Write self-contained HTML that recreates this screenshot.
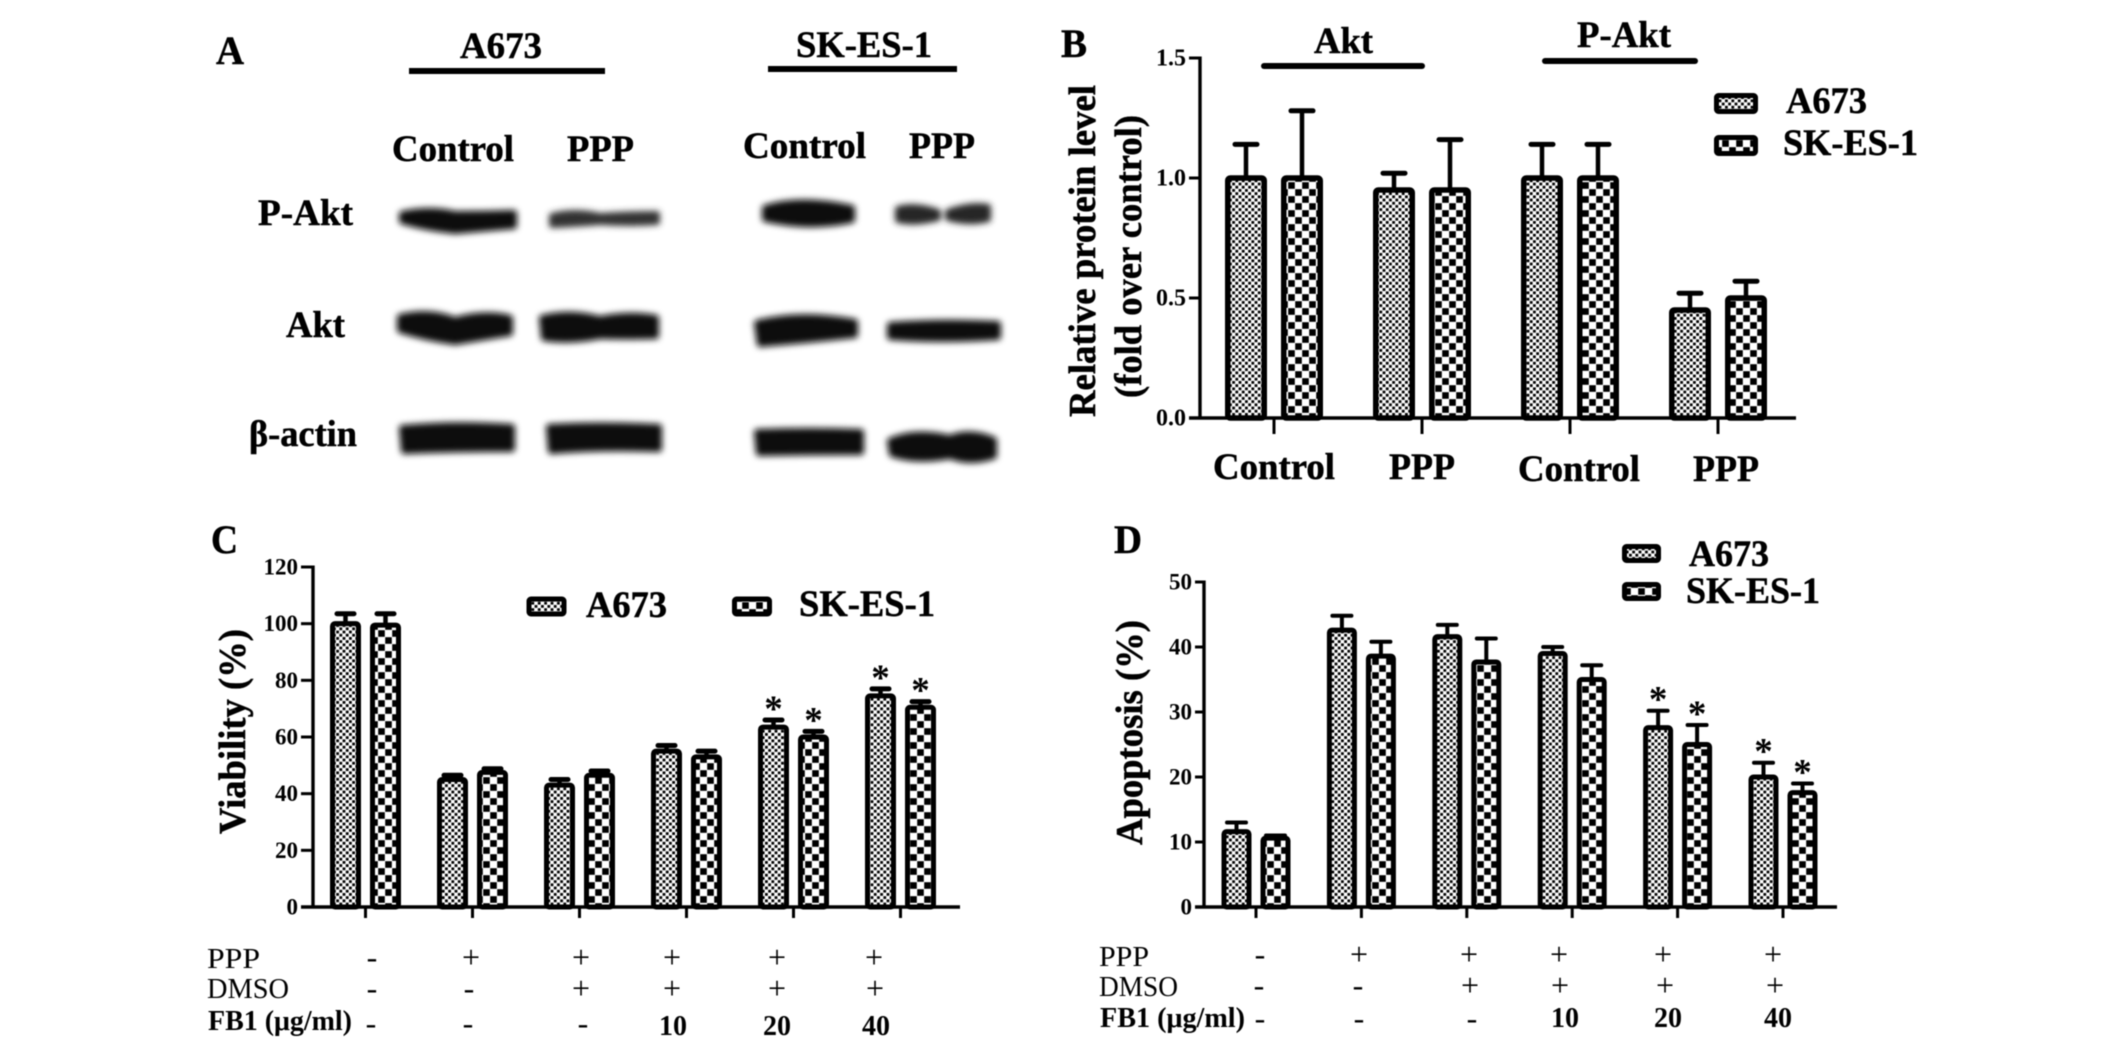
<!DOCTYPE html>
<html lang="en">
<head>
<meta charset="utf-8">
<title>Western blot and bar charts panel figure</title>
<style>
html,body{margin:0;padding:0;background:#fff;width:2126px;height:1047px;overflow:hidden}
#figure{display:block;filter:blur(0.5px)}
text{font-family:"Liberation Serif","DejaVu Serif",serif;fill:#000}
.b{font-weight:bold;stroke:#000;stroke-width:.5px}
.h{font-weight:bold;font-size:37px;stroke:#000;stroke-width:.5px}
.t{font-size:28px;font-weight:bold}
.s{font-size:32px;text-anchor:middle}
.n{font-size:28px;font-weight:bold;text-anchor:middle}
</style>
</head>
<body>
<svg id="figure" xmlns="http://www.w3.org/2000/svg" width="2126" height="1047" viewBox="0 0 2126 1047">
<defs>
<pattern id="fine" patternUnits="userSpaceOnUse" width="6.4" height="6.4">
<rect width="6.4" height="6.4" fill="#fff"/>
<rect x="0.2" y="0.2" width="2.8" height="2.8" fill="#000"/>
<rect x="3.4" y="3.4" width="2.8" height="2.8" fill="#000"/>
</pattern>
<pattern id="coarse" patternUnits="userSpaceOnUse" width="14" height="14">
<rect width="14" height="14" fill="#fff"/>
<rect x="0.2" y="0.2" width="6.6" height="6.6" fill="#000"/>
<rect x="7.2" y="7.2" width="6.6" height="6.6" fill="#000"/>
</pattern>
<filter id="bandBlur" x="-20%" y="-60%" width="140%" height="220%"><feGaussianBlur stdDeviation="3.2"/></filter>
</defs>

<rect width="2126" height="1047" fill="#fff"/>

<!-- PANEL A -->
<g>
<text class="b" x="216" y="64" font-size="40" textLength="28" lengthAdjust="spacingAndGlyphs">A</text>
<text class="h" x="460" y="58" textLength="82" lengthAdjust="spacingAndGlyphs">A673</text>
<rect x="409" y="68" width="196" height="6" fill="#000"/>
<text class="h" x="796" y="57" textLength="136" lengthAdjust="spacingAndGlyphs">SK-ES-1</text>
<rect x="768" y="66" width="189" height="6" fill="#000"/>
<text class="h" x="392" y="161" textLength="122" lengthAdjust="spacingAndGlyphs">Control</text>
<text class="h" x="567" y="161" textLength="67" lengthAdjust="spacingAndGlyphs">PPP</text>
<text class="h" x="743" y="158" textLength="123" lengthAdjust="spacingAndGlyphs">Control</text>
<text class="h" x="909" y="158" textLength="66" lengthAdjust="spacingAndGlyphs">PPP</text>
<text class="h" x="258" y="225" textLength="95" lengthAdjust="spacingAndGlyphs">P-Akt</text>
<text class="h" x="286" y="337" textLength="59" lengthAdjust="spacingAndGlyphs">Akt</text>
<text class="h" x="249" y="446" textLength="108" lengthAdjust="spacingAndGlyphs">β-actin</text>
<g filter="url(#bandBlur)" fill="#0a0a0a" stroke="#0a0a0a" stroke-width="6" stroke-linejoin="round">
<path d="M402 214 Q430 208 455 214 Q485 214 514 213 L514 226 Q480 229 455 231 Q425 228 402 221 Z"/>
<path fill="#333" stroke="#333" d="M552 216 Q575 210 600 216 Q630 214 657 214 L657 222 Q630 224 600 222 Q575 224 552 225 Z"/>
<path d="M765 208 Q800 197 852 208 L852 220 Q810 229 765 219 Z"/>
<path fill="#262626" stroke="#262626" d="M898 209 Q915 204 938 212 L938 218 Q915 224 898 220 Z"/>
<path fill="#262626" stroke="#262626" d="M948 212 Q970 204 988 207 L988 219 Q970 224 948 218 Z"/>
<path d="M400 317 Q430 310 455 320 Q485 312 510 318 L510 333 Q480 338 455 342 Q425 338 400 330 Z"/>
<path d="M542 318 Q570 311 600 319 Q630 313 656 318 L656 336 Q625 337 600 336 Q570 342 544 338 Z"/>
<path d="M757 323 Q800 312 855 322 L855 335 Q810 340 760 344 Z"/>
<path d="M890 325 Q940 321 998 324 L998 337 Q940 341 890 337 Z"/>
<path d="M402 428 Q455 423 512 427 L512 449 Q455 449 404 451 Z"/>
<path d="M549 427 Q600 424 659 427 L659 449 Q600 447 551 451 Z"/>
<path d="M757 432 Q810 430 861 432 L861 452 Q810 452 759 453 Z"/>
<path d="M890 441 Q915 430 950 438 Q970 430 994 440 L994 456 Q970 464 950 456 Q915 462 892 454 Z"/>
</g>
</g>

<!-- PANEL B text -->
<g>
<text class="b" x="1061" y="57" font-size="40" textLength="26" lengthAdjust="spacingAndGlyphs">B</text>
<text class="h" x="1314" y="53" textLength="59" lengthAdjust="spacingAndGlyphs">Akt</text>
<rect x="1261" y="63" width="164" height="6" rx="3" fill="#000"/>
<text class="h" x="1577" y="47" textLength="94" lengthAdjust="spacingAndGlyphs">P-Akt</text>
<rect x="1542" y="58" width="156" height="6" rx="3" fill="#000"/>
<text class="b" font-size="37" transform="translate(1095,417) rotate(-90) scale(1,1.03)" textLength="332" lengthAdjust="spacingAndGlyphs">Relative protein level</text>
<text class="b" font-size="37" transform="translate(1141,398) rotate(-90) scale(1,1.03)" textLength="283" lengthAdjust="spacingAndGlyphs">(fold over control)</text>
<text class="h" x="1213" y="479" textLength="122" lengthAdjust="spacingAndGlyphs">Control</text>
<text class="h" x="1389" y="479" textLength="66" lengthAdjust="spacingAndGlyphs">PPP</text>
<text class="h" x="1518" y="481" textLength="122" lengthAdjust="spacingAndGlyphs">Control</text>
<text class="h" x="1693" y="481" textLength="66" lengthAdjust="spacingAndGlyphs">PPP</text>
<rect x="1716.5" y="95.5" width="39" height="16" rx="2" fill="url(#fine)" stroke="#000" stroke-width="5"/>
<text class="h" x="1786" y="113" textLength="81" lengthAdjust="spacingAndGlyphs">A673</text>
<rect x="1716.5" y="137.5" width="39" height="16" rx="2" fill="url(#coarse)" stroke="#000" stroke-width="5"/>
<text class="h" x="1783" y="155" textLength="135" lengthAdjust="spacingAndGlyphs">SK-ES-1</text>
</g>

<!-- PANEL C text -->
<g>
<text class="b" x="211" y="553" font-size="40" textLength="27" lengthAdjust="spacingAndGlyphs">C</text>
<text class="b" font-size="37" transform="translate(245,834) rotate(-90) scale(1,1.03)" textLength="205" lengthAdjust="spacingAndGlyphs">Viability (%)</text>
<rect x="529" y="599" width="35" height="15" rx="2" fill="url(#fine)" stroke="#000" stroke-width="5"/>
<text class="h" x="586" y="617" textLength="81" lengthAdjust="spacingAndGlyphs">A673</text>
<rect x="734.5" y="599" width="35" height="15" rx="2" fill="url(#coarse)" stroke="#000" stroke-width="5"/>
<text class="h" x="799" y="616" textLength="136" lengthAdjust="spacingAndGlyphs">SK-ES-1</text>
<g>
<text x="207" y="968" font-size="28" textLength="53" lengthAdjust="spacingAndGlyphs">PPP</text>
<text x="207" y="998" font-size="28" textLength="82" lengthAdjust="spacingAndGlyphs">DMSO</text>
<text class="t" x="208" y="1030" textLength="144" lengthAdjust="spacingAndGlyphs">FB1 (μg/ml)</text>
<text class="s" x="372" y="968">-</text>
<text class="s" x="471" y="968">+</text>
<text class="s" x="581" y="968">+</text>
<text class="s" x="672" y="968">+</text>
<text class="s" x="777" y="968">+</text>
<text class="s" x="874" y="968">+</text>
<text class="s" x="372" y="999">-</text>
<text class="s" x="469" y="999">-</text>
<text class="s" x="581" y="999">+</text>
<text class="s" x="672" y="999">+</text>
<text class="s" x="777" y="999">+</text>
<text class="s" x="875" y="999">+</text>
<text class="s" x="371" y="1034">-</text>
<text class="s" x="468" y="1034">-</text>
<text class="s" x="583" y="1034">-</text>
<text class="n" x="673" y="1035">10</text>
<text class="n" x="777" y="1035">20</text>
<text class="n" x="876" y="1035">40</text>
</g>
</g>

<!-- PANEL D text -->
<g>
<text class="b" x="1114" y="553" font-size="40" textLength="28" lengthAdjust="spacingAndGlyphs">D</text>
<text class="b" font-size="37" transform="translate(1142,845) rotate(-90) scale(1,1.03)" textLength="225" lengthAdjust="spacingAndGlyphs">Apoptosis (%)</text>
<rect x="1624.5" y="546.5" width="34" height="14" rx="2" fill="url(#fine)" stroke="#000" stroke-width="5"/>
<text class="h" x="1689" y="566" textLength="80" lengthAdjust="spacingAndGlyphs">A673</text>
<rect x="1624.5" y="584.5" width="34" height="14" rx="2" fill="url(#coarse)" stroke="#000" stroke-width="5"/>
<text class="h" x="1686" y="603" textLength="134" lengthAdjust="spacingAndGlyphs">SK-ES-1</text>
<g>
<text x="1099" y="966" font-size="28" textLength="50" lengthAdjust="spacingAndGlyphs">PPP</text>
<text x="1099" y="996" font-size="28" textLength="79" lengthAdjust="spacingAndGlyphs">DMSO</text>
<text class="t" x="1100" y="1027" textLength="145" lengthAdjust="spacingAndGlyphs">FB1 (μg/ml)</text>
<text class="s" x="1260" y="965">-</text>
<text class="s" x="1359" y="965">+</text>
<text class="s" x="1469" y="965">+</text>
<text class="s" x="1559" y="965">+</text>
<text class="s" x="1663" y="965">+</text>
<text class="s" x="1773" y="965">+</text>
<text class="s" x="1259" y="996">-</text>
<text class="s" x="1358" y="996">-</text>
<text class="s" x="1470" y="996">+</text>
<text class="s" x="1560" y="996">+</text>
<text class="s" x="1665" y="996">+</text>
<text class="s" x="1775" y="996">+</text>
<text class="s" x="1260" y="1029">-</text>
<text class="s" x="1359" y="1029">-</text>
<text class="s" x="1472" y="1029">-</text>
<text class="n" x="1565" y="1027">10</text>
<text class="n" x="1668" y="1027">20</text>
<text class="n" x="1778" y="1027">40</text>
</g>
</g>

<g id="chart-b"></g>
<g id="chart-c"></g>
<g id="chart-d"></g>
</svg>

<script>
// Panel B: relative protein level
const bCategories = ['Akt Control', 'Akt PPP', 'P-Akt Control', 'P-Akt PPP'];
const bA673 = [1.0, 0.95, 1.0, 0.45];
const bSkEs1 = [1.0, 0.95, 1.0, 0.5];
const bA673ErrorTop = [1.14, 1.02, 1.14, 0.52];
const bSkEs1ErrorTop = [1.28, 1.16, 1.14, 0.57];
const bA673Starred = [false, false, false, false];
const bSkEs1Starred = [false, false, false, false];
const bTickValues = [0, 0.5, 1.0, 1.5];
const bTickLabels = ['0.0', '0.5', '1.0', '1.5'];

// Panel C: viability
const cCategories = ['untreated', 'PPP', 'PPP + DMSO', 'FB1 10', 'FB1 20', 'FB1 40'];
const cA673 = [100, 45, 43, 55, 63.5, 74.5];
const cSkEs1 = [99.5, 47.5, 46.5, 53, 60, 70.5];
const cA673ErrorTop = [103.5, 46.5, 45, 57, 66, 77];
const cSkEs1ErrorTop = [103.5, 48.8, 48, 55, 62, 72.5];
const cA673Starred = [false, false, false, false, true, true];
const cSkEs1Starred = [false, false, false, false, true, true];
const cTickValues = [0, 20, 40, 60, 80, 100, 120];
const cTickLabels = ['0', '20', '40', '60', '80', '100', '120'];

// Panel D: apoptosis
const dCategories = ['untreated', 'PPP', 'PPP + DMSO', 'FB1 10', 'FB1 20', 'FB1 40'];
const dA673 = [11.6, 42.6, 41.6, 39, 27.6, 20];
const dSkEs1 = [10.6, 38.6, 37.7, 35, 25, 17.6];
const dA673ErrorTop = [13, 44.8, 43.4, 40, 30.2, 22.2];
const dSkEs1ErrorTop = [11, 40.8, 41.3, 37.2, 28, 19];
const dA673Starred = [false, false, false, false, true, true];
const dSkEs1Starred = [false, false, false, false, true, true];
const dTickValues = [0, 10, 20, 30, 40, 50];
const dTickLabels = ['0', '10', '20', '30', '40', '50'];

const SVGNS = 'http://www.w3.org/2000/svg';
function add(parent, tag, attrs) {
  const el = document.createElementNS(SVGNS, tag);
  for (const k in attrs) el.setAttribute(k, attrs[k]);
  parent.appendChild(el);
  return el;
}

function drawChart(root, o) {
  const yScale = v => o.y0 - (v - o.vMin) * (o.y0 - o.yTop) / (o.vMax - o.vMin);
  const xScale = i => o.x0 + i * o.step;

  o.categories.forEach(function (cat, i) {
    const series = [
      { key: 'a673', v: o.a[i], top: o.aTop[i], star: o.aStar[i], fill: 'url(#fine)', dx: -o.offset },
      { key: 'sk-es-1', v: o.s[i], top: o.sTop[i], star: o.sStar[i], fill: 'url(#coarse)', dx: o.offset }
    ];
    series.forEach(function (sr) {
      const cx = xScale(i) + sr.dx;
      const stem = add(root, 'line', { x1: cx, x2: cx, y1: yScale(sr.v), y2: yScale(sr.top), stroke: '#000', 'stroke-width': o.stem });
      
      
      const cap = add(root, 'line', { x1: cx - o.cap / 2, x2: cx + o.cap / 2, y1: yScale(sr.top), y2: yScale(sr.top), stroke: '#000', 'stroke-width': o.capW, 'stroke-linecap': 'round' });
      
      
      const bar = add(root, 'rect', {
        x: cx - o.barW / 2 + o.border / 2, y: yScale(sr.v),
        width: o.barW - o.border, height: o.y0 - yScale(sr.v),
        rx: 2.5, fill: sr.fill, stroke: '#000', 'stroke-width': o.border
      });
      
      
      if (sr.star) {
        const st = add(root, 'text', { x: cx, y: yScale(sr.top) + 1, 'font-size': 37, 'font-weight': 'bold', 'text-anchor': 'middle' });
        
        
        st.textContent = '*';
      }
    });
    const tick = add(root, 'line', { x1: xScale(i), x2: xScale(i), y1: o.y0, y2: o.y0 + o.tickLen, stroke: '#000', 'stroke-width': 3 });
    
    
  });

  const yAxis = add(root, 'line', { x1: o.axisX, x2: o.axisX, y1: yScale(o.vMax) - 1.5, y2: o.y0, stroke: '#000', 'stroke-width': 3.4 });
  
  
  const xAxis = add(root, 'line', { x1: o.axisLeft, x2: o.axisRight, y1: o.y0, y2: o.y0, stroke: '#000', 'stroke-width': 3.4 });
  
  

  o.ticks.forEach(function (v, i) {
    const t = add(root, 'line', { x1: o.axisLeft, x2: o.axisX, y1: yScale(v), y2: yScale(v), stroke: '#000', 'stroke-width': 3 });
    
    
    const lab = add(root, 'text', { x: o.axisLeft - 3, y: yScale(v) + 7.5, 'font-size': o.tickFont, 'font-weight': 'bold', 'text-anchor': 'end' });
    
    
    lab.textContent = o.tickLabels[i];
  });
}

drawChart(document.getElementById('chart-b'), {
  categories: bCategories, a: bA673, s: bSkEs1, aTop: bA673ErrorTop, sTop: bSkEs1ErrorTop,
  aStar: bA673Starred, sStar: bSkEs1Starred, ticks: bTickValues, tickLabels: bTickLabels,
  vMin: 0, vMax: 1.5, y0: 418, yTop: 58, axisX: 1200, axisLeft: 1189, axisRight: 1796,
  x0: 1274, step: 148, offset: 28, barW: 42, border: 5.5, cap: 22, capW: 5, stem: 4.5,
  tickLen: 16, tickFont: 24
});
drawChart(document.getElementById('chart-c'), {
  categories: cCategories, a: cA673, s: cSkEs1, aTop: cA673ErrorTop, sTop: cSkEs1ErrorTop,
  aStar: cA673Starred, sStar: cSkEs1Starred, ticks: cTickValues, tickLabels: cTickLabels,
  vMin: 0, vMax: 120, y0: 907, yTop: 567, axisX: 313, axisLeft: 301, axisRight: 960,
  x0: 365.5, step: 107, offset: 20, barW: 31, border: 5, cap: 17, capW: 5, stem: 4.5,
  tickLen: 11, tickFont: 23
});
drawChart(document.getElementById('chart-d'), {
  categories: dCategories, a: dA673, s: dSkEs1, aTop: dA673ErrorTop, sTop: dSkEs1ErrorTop,
  aStar: dA673Starred, sStar: dSkEs1Starred, ticks: dTickValues, tickLabels: dTickLabels,
  vMin: 0, vMax: 50, y0: 907, yTop: 582, axisX: 1204, axisLeft: 1195, axisRight: 1837,
  x0: 1256, step: 105.4, offset: 19.5, barW: 30, border: 5, cap: 19, capW: 4, stem: 4,
  tickLen: 11, tickFont: 23
});
</script>
</body>
</html>
